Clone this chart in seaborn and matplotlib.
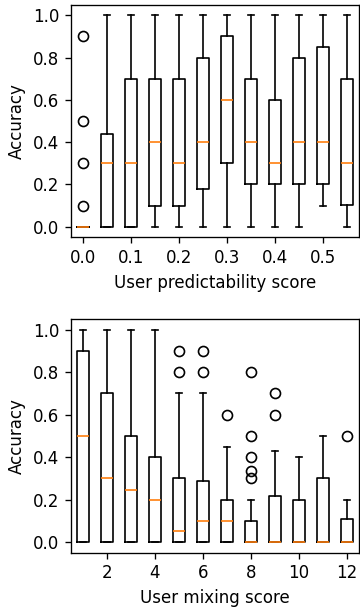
import matplotlib
matplotlib.use("Agg")
import matplotlib.pyplot as plt
import seaborn as sns

# top panel: accuracy vs user predictability score
pred_pos = [0.0, 0.05, 0.1, 0.15, 0.2, 0.25, 0.3, 0.35, 0.4, 0.45, 0.5, 0.55]
pred_med = [0.0, 0.3, 0.3, 0.4, 0.3, 0.4, 0.6, 0.4, 0.3, 0.4, 0.4, 0.3]
pred_q1 = [0.0, 0.0, 0.0, 0.1, 0.1, 0.178, 0.3, 0.2, 0.2, 0.2, 0.2, 0.105]
pred_q3 = [0.0, 0.437, 0.7, 0.7, 0.7, 0.8, 0.9, 0.7, 0.6, 0.8, 0.85, 0.7]
pred_lo = [0.0, 0.0, 0.0, 0.0, 0.0, 0.0, 0.0, 0.0, 0.0, 0.0, 0.1, 0.0]
pred_hi = [0.0, 1.0, 1.0, 1.0, 1.0, 1.0, 1.0, 1.0, 1.0, 1.0, 1.0, 1.0]
pred_fliers = [[0.1, 0.3, 0.5, 0.9], [], [], [], [], [], [], [], [], [], [], []]
pred_ticks = [0.0, 0.1, 0.2, 0.3, 0.4, 0.5]

# bottom panel: accuracy vs user mixing score
mix_pos = [1, 2, 3, 4, 5, 6, 7, 8, 9, 10, 11, 12]
mix_med = [0.5, 0.3, 0.243, 0.2, 0.05, 0.1, 0.1, 0.0, 0.0, 0.0, 0.0, 0.0]
mix_q1 = [0.0] * 12
mix_q3 = [0.898, 0.7, 0.5, 0.4, 0.3, 0.288, 0.2, 0.1, 0.216, 0.2, 0.3, 0.11]
mix_lo = [0.0] * 12
mix_hi = [1.0, 1.0, 1.0, 1.0, 0.7, 0.7, 0.446, 0.2, 0.428, 0.4, 0.5, 0.2]
mix_fliers = [[], [], [], [], [0.8, 0.9], [0.8, 0.9], [0.6],
              [0.3, 0.333, 0.4, 0.5, 0.8], [0.6, 0.7], [], [], [0.5]]
mix_ticks = [2, 4, 6, 8, 10, 12]


def make_stats(med, q1, q3, lo, hi, fl):
    return [dict(med=m, q1=a, q3=b, whislo=l, whishi=h, fliers=f)
            for m, a, b, l, h, f in zip(med, q1, q3, lo, hi, fl)]


sns.reset_defaults()
fig, (ax1, ax2) = plt.subplots(2, 1, figsize=(3.0, 608 / 120), dpi=120)

ax1.bxp(make_stats(pred_med, pred_q1, pred_q3, pred_lo, pred_hi, pred_fliers),
        positions=pred_pos, widths=0.025, manage_ticks=False)
ax1.set_xlim(-0.025, 0.575)
ax1.set_xticks(pred_ticks)
ax1.set_xticklabels([f"{t:.1f}" for t in pred_ticks])
ax1.set_xlabel("User predictability score")
ax1.set_ylabel("Accuracy")

ax2.bxp(make_stats(mix_med, mix_q1, mix_q3, mix_lo, mix_hi, mix_fliers),
        positions=mix_pos, widths=0.5, manage_ticks=False)
ax2.set_xlim(0.5, 12.5)
ax2.set_xticks(mix_ticks)
ax2.set_xticklabels([str(t) for t in mix_ticks])
ax2.set_xlabel("User mixing score")
ax2.set_ylabel("Accuracy")

ax1.set_position([0.197, 0.6097, 0.8, 0.9923 - 0.6097])
ax2.set_position([0.197, 0.091, 0.8, 0.4753 - 0.091])

fig.savefig("out.png", dpi=120)
